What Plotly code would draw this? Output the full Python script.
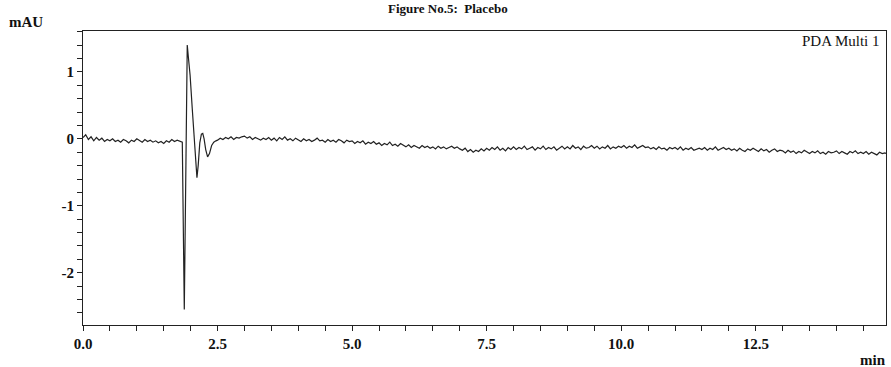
import plotly.graph_objects as go

# ---- data ----
# baseline before the injection disturbance, sampled every 0.05 min from 0.00
pre_start = 0.0
pre_step = 0.05
pre_vals = [0.02, 0.06, -0.01, 0.03, -0.03, 0.02, -0.02, 0.01, -0.04, -0.01,
            -0.03, 0.00, -0.04, -0.02, -0.05, -0.01, -0.03, -0.06, -0.02, -0.04,
            0.00, -0.03, -0.05, -0.01, -0.04, -0.02, -0.05, -0.03, -0.06, -0.04,
            -0.07, -0.03, -0.05, -0.01, -0.04, -0.02, -0.03]

# injection disturbance (explicit times / values)
peak_t = [1.845, 1.882, 1.91, 1.937, 1.96, 1.99, 2.03, 2.06, 2.09, 2.117,
          2.14, 2.17, 2.20, 2.225, 2.25, 2.28, 2.315, 2.35, 2.39, 2.43, 2.47]
peak_v = [-0.05, -2.55, -0.10, 1.40, 1.20, 0.95, 0.45, 0.05, -0.30, -0.58,
          -0.40, -0.06, 0.07, 0.08, 0.00, -0.16, -0.27, -0.22, -0.10, -0.05, -0.03]

# baseline after the disturbance, sampled every 0.05 min from 2.50
post_start = 2.50
post_step = 0.05
post_vals = [
    -0.02, 0.01, -0.01, 0.02, 0.00, 0.03, -0.01, 0.02, 0.01, 0.03,
    0.04, 0.01, 0.03, -0.01, 0.02, 0.00, -0.02, 0.01, -0.01, 0.02,
    -0.02, 0.01, -0.03, 0.02, -0.01, 0.03, -0.02, 0.00, -0.03, 0.01,
    -0.01, -0.04, 0.00, -0.03, -0.01, -0.04, -0.02, 0.01, -0.03, -0.02,
    -0.05, -0.01, -0.04, -0.02, -0.05, -0.01, -0.03, -0.06, -0.02, -0.04,
    -0.03, -0.07, -0.04, -0.06, -0.03, -0.08, -0.05, -0.07, -0.04, -0.08,
    -0.06, -0.10, -0.07, -0.09, -0.05, -0.10, -0.08, -0.11, -0.07, -0.10,
    -0.12, -0.09, -0.13, -0.10, -0.12, -0.14, -0.10, -0.13, -0.11, -0.14,
    -0.12, -0.15, -0.11, -0.14, -0.12, -0.15, -0.13, -0.11, -0.14, -0.12,
    -0.15, -0.17, -0.14, -0.19, -0.16, -0.20, -0.17, -0.19, -0.15, -0.18,
    -0.14, -0.17, -0.13, -0.16, -0.12, -0.17, -0.14, -0.18, -0.13, -0.16,
    -0.12, -0.16, -0.13, -0.15, -0.11, -0.16, -0.14, -0.12, -0.17, -0.13,
    -0.15, -0.11, -0.16, -0.13, -0.15, -0.12, -0.17, -0.14, -0.11, -0.15,
    -0.12, -0.15, -0.10, -0.14, -0.12, -0.16, -0.11, -0.14, -0.13, -0.10,
    -0.14, -0.11, -0.15, -0.12, -0.14, -0.10, -0.15, -0.12, -0.14, -0.11,
    -0.13, -0.10, -0.14, -0.11, -0.13, -0.09, -0.14, -0.12, -0.10, -0.13,
    -0.12, -0.15, -0.13, -0.16, -0.12, -0.15, -0.14, -0.17, -0.13, -0.15,
    -0.13, -0.16, -0.12, -0.17, -0.14, -0.16, -0.13, -0.17, -0.15, -0.14,
    -0.16, -0.13, -0.17, -0.14, -0.16, -0.12, -0.17, -0.15, -0.13, -0.16,
    -0.14, -0.17, -0.15, -0.18, -0.14, -0.17, -0.19, -0.15, -0.17, -0.14,
    -0.16, -0.19, -0.15, -0.18, -0.16, -0.20, -0.17, -0.15, -0.19, -0.17,
    -0.18, -0.21, -0.17, -0.20, -0.18, -0.22, -0.19, -0.21, -0.17, -0.20,
    -0.22, -0.19, -0.21, -0.18, -0.22, -0.20, -0.23, -0.19, -0.21, -0.20,
    -0.18, -0.22, -0.19, -0.21, -0.23, -0.19, -0.21, -0.18, -0.22, -0.20,
    -0.22, -0.19, -0.23, -0.20, -0.22, -0.24, -0.20, -0.22, -0.21, -0.23,
]

x_tickvals = [0.0, 2.5, 5.0, 7.5, 10.0, 12.5]
x_ticktext = ["0.0", "2.5", "5.0", "7.5", "10.0", "12.5"]
y_tickvals = [-2, -1, 0, 1]
y_ticktext = ["-2", "-1", "0", "1"]
x_range = [0.0, 14.92]
y_range = [-2.78, 1.61]

title_text = "Figure No.5:  Placebo"
y_unit = "mAU"
x_unit = "min"
trace_label = "PDA Multi 1"

# ---- assemble series ----
t_all = [pre_start + pre_step * i for i in range(len(pre_vals))]
v_all = list(pre_vals)
t_all += peak_t
v_all += peak_v
t_all += [post_start + post_step * i for i in range(len(post_vals))]
v_all += post_vals

serif = "Liberation Serif, Times New Roman, serif"

fig = go.Figure()
fig.add_trace(go.Scatter(x=t_all, y=v_all, mode="lines",
                         line=dict(color="#222222", width=1.2),
                         hoverinfo="skip", showlegend=False))

fig.update_layout(
    width=891, height=367,
    margin=dict(l=83, r=5, t=31, b=42),
    paper_bgcolor="white", plot_bgcolor="white",
    showlegend=False,
)

axis_common = dict(
    showgrid=False, zeroline=False, showline=True, linecolor="#222",
    linewidth=1, mirror=True, ticks="outside", ticklen=5, tickwidth=1,
    tickcolor="#222",
    tickfont=dict(family=serif, size=15, color="#111", weight="bold"),
)

fig.update_xaxes(
    range=x_range, tickvals=x_tickvals, ticktext=x_ticktext,
    minor=dict(dtick=0.5, tick0=0, ticks="outside", ticklen=5,
               tickcolor="#222", showgrid=False),
    **axis_common,
)
fig.update_yaxes(
    range=y_range, tickvals=y_tickvals, ticktext=y_ticktext,
    minor=dict(dtick=0.2, tick0=0, ticks="outside", ticklen=5,
               tickcolor="#222", showgrid=False),
    **axis_common,
)

fig.add_annotation(text=title_text, xref="paper", yref="paper",
                   x=0.455, y=1, xanchor="center", yanchor="bottom",
                   yshift=13, showarrow=False,
                   font=dict(family=serif, size=13, color="#111", weight="bold"))
fig.add_annotation(text=y_unit, xref="paper", yref="paper",
                   x=0, y=1, xanchor="right", yanchor="middle",
                   xshift=-38, yshift=9, showarrow=False,
                   font=dict(family=serif, size=15, color="#111", weight="bold"))
fig.add_annotation(text=trace_label, xref="paper", yref="paper",
                   x=1, y=1, xanchor="right", yanchor="top",
                   xshift=-4, yshift=0, showarrow=False,
                   font=dict(family=serif, size=15, color="#111"))
fig.add_annotation(text=x_unit, xref="paper", yref="paper",
                   x=1, y=0, xanchor="right", yanchor="middle",
                   xshift=2, yshift=-35, showarrow=False,
                   font=dict(family=serif, size=15, color="#111", weight="bold"))

fig.write_html("out.html", config={"displayModeBar": False},
               post_script="document.body.style.margin='0';")
